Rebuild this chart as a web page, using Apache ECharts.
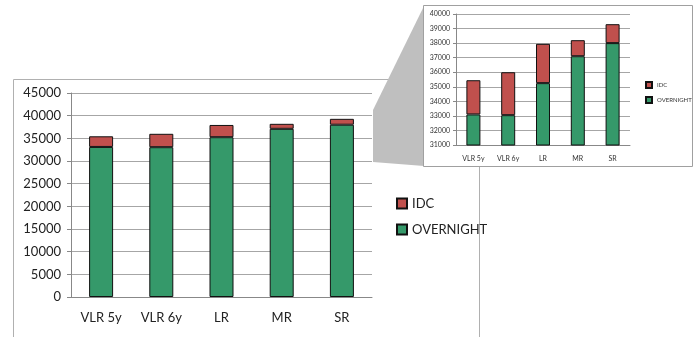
<!DOCTYPE html>
<html>
<head>
<meta charset="utf-8">
<script src="https://cdn.jsdelivr.net/npm/echarts@6/dist/echarts.min.js"></script>
<style>
  html, body { margin: 0; padding: 0; background: #fff; }
  #chart { width: 697px; height: 337px; }
</style>
</head>
<body>
<div id="chart"></div>
<script>
// data
var categories = ['VLR 5y', 'VLR 6y', 'LR', 'MR', 'SR'];
var overnight = [33100, 33050, 35250, 37100, 38000];
var idc = [2350, 2950, 2700, 1100, 1300];

var green = '#35996a';
var red = '#c0504d';
var font = 'Lato, "Open Sans", sans-serif';

var myChart = echarts.init(document.getElementById('chart'));

function barSeries(name, data, color, idx, z) {
    return {
        name: name,
        type: 'bar',
        stack: 'total' + idx,
        xAxisIndex: idx,
        yAxisIndex: idx,
        barWidth: idx == 0 ? 24 : 14,
        data: data,
        z: z,
        itemStyle: { color: color, borderColor: '#111', borderWidth: 1 }
    };
}

function plain(v) { return String(v); }

var option = {
    animation: false,
    textStyle: { fontFamily: font },
    grid: [
        { left: 71, right: 325, top: 93, bottom: 40 },
        { left: 456, right: 67, top: 14, bottom: 192, z: 7 }
    ],
    legend: [
        {
            data: ['IDC', 'OVERNIGHT'],
            orient: 'vertical',
            left: 391, top: 192,
            icon: 'rect',
            itemWidth: 10, itemHeight: 10, itemGap: 13,
            textStyle: { fontSize: 13, color: '#222', fontFamily: font }
        },
        {
            data: ['IDC', 'OVERNIGHT'],
            orient: 'vertical',
            left: 640, top: 76,
            icon: 'rect',
            itemWidth: 6, itemHeight: 6, itemGap: 7,
            itemTextGap: 3,
            z: 8,
            textStyle: { fontSize: 6, color: '#333', fontFamily: font }
        }
    ],
    xAxis: [
        {
            type: 'category', gridIndex: 0, data: categories,
            axisLine: { lineStyle: { color: '#888' } },
            axisTick: { length: 4, lineStyle: { color: '#888' } },
            axisLabel: { color: '#222', fontSize: 13, margin: 14 }
        },
        {
            type: 'category', gridIndex: 1, data: categories, z: 7,
            axisLine: { lineStyle: { color: '#888' } },
            axisTick: { length: 3, lineStyle: { color: '#888' } },
            axisLabel: { color: '#333', fontSize: 7, margin: 10 }
        }
    ],
    yAxis: [
        {
            type: 'value', gridIndex: 0, min: 0, max: 45000, interval: 5000,
            axisLine: { show: true, lineStyle: { color: '#888' } },
            axisTick: { show: true, length: 4, lineStyle: { color: '#888' } },
            axisLabel: { color: '#222', fontSize: 13, margin: 10, formatter: plain },
            splitLine: { lineStyle: { color: '#a6a6a6' } }
        },
        {
            type: 'value', gridIndex: 1, min: 31000, max: 40000, interval: 1000, z: 7,
            axisLine: { show: true, lineStyle: { color: '#888' } },
            axisTick: { show: true, length: 3, lineStyle: { color: '#888' } },
            axisLabel: { color: '#333', fontSize: 7, margin: 6, formatter: plain },
            splitLine: { lineStyle: { color: '#a6a6a6' } }
        }
    ],
    series: [
        barSeries('OVERNIGHT', overnight, green, 0, 2),
        barSeries('IDC', idc, red, 0, 2),
        barSeries('OVERNIGHT', overnight, green, 1, 8),
        barSeries('IDC', idc, red, 1, 8)
    ],
    graphic: [
        {
            type: 'rect', z: 1, silent: true,
            shape: { x: 13.5, y: 79.5, width: 466, height: 300 },
            style: { fill: null, stroke: '#b0b0b0', lineWidth: 1 }
        },
        {
            type: 'polygon', z: 5, silent: true,
            shape: { points: [[373, 110], [424, 6], [424, 166], [373, 162]] },
            style: { fill: '#bfbfbf' }
        },
        {
            type: 'rect', z: 6, silent: true,
            shape: { x: 423.5, y: 5.5, width: 269, height: 161 },
            style: { fill: '#fff', stroke: '#a0a0a0', lineWidth: 1 }
        }
    ]
};
myChart.setOption(option);
</script>
</body>
</html>
